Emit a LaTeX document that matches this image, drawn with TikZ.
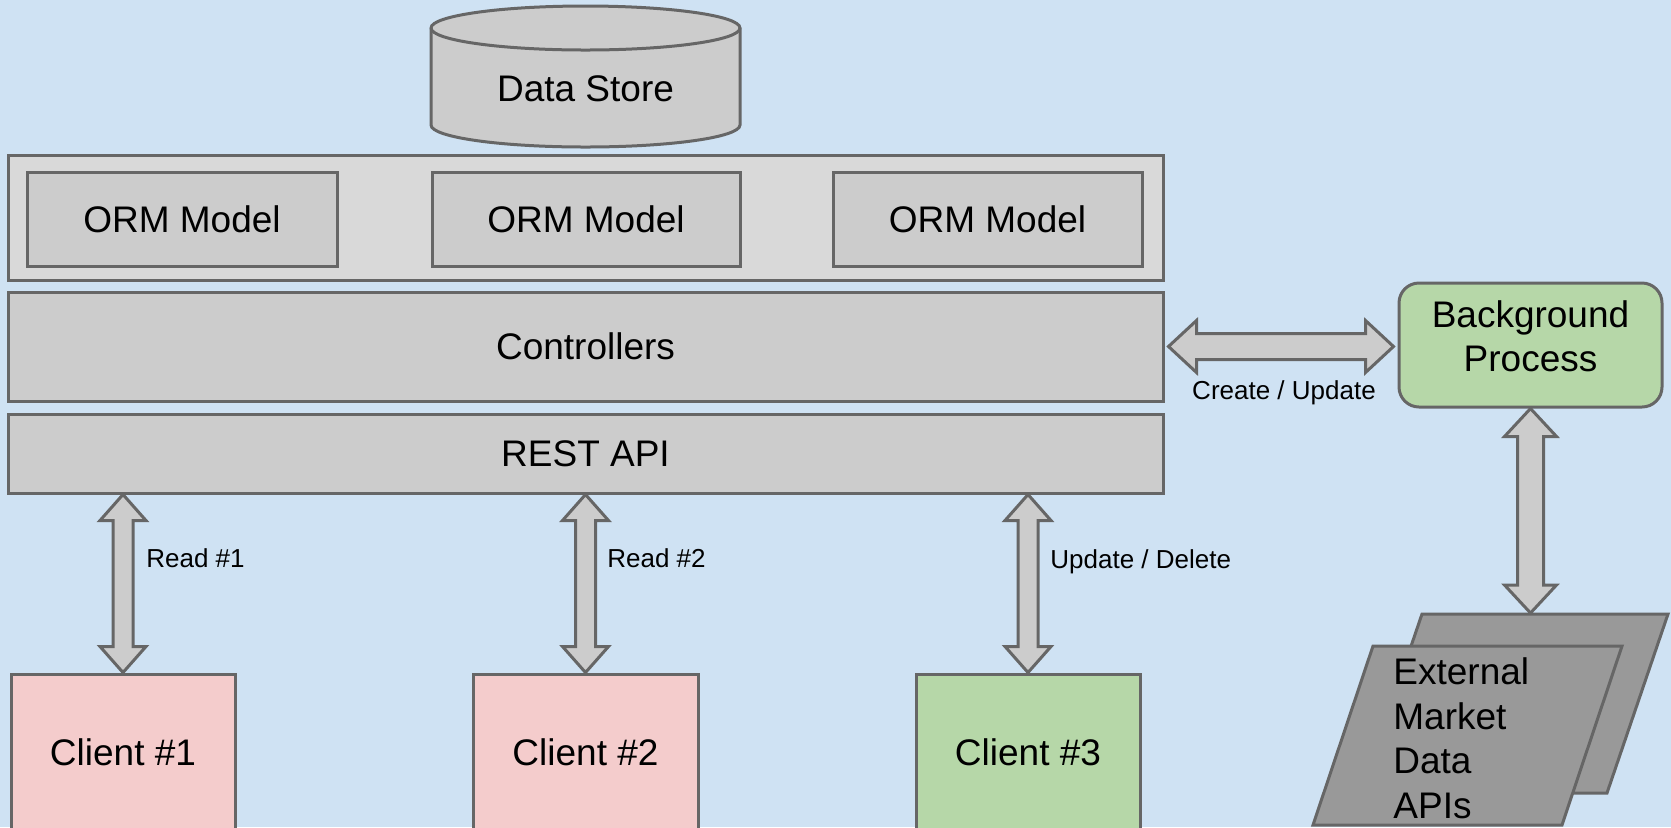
\documentclass[tikz,border=0pt]{standalone}
\usepackage{fontspec}
\setmainfont{Liberation Sans}
\usetikzlibrary{calc}

\definecolor{bgblue}{HTML}{CFE2F3}
\definecolor{edge}{HTML}{666666}
\definecolor{boxgray}{HTML}{CCCCCC}
\definecolor{panelgray}{HTML}{D9D9D9}
\definecolor{darkgray}{HTML}{999999}
\definecolor{clientpink}{HTML}{F4CCCC}
\definecolor{procgreen}{HTML}{B6D7A8}

\newcommand\mainsize{\fontsize{18.5}{22}\selectfont}
\newcommand\labelsize{\fontsize{13}{15}\selectfont}

\tikzset{
  outline/.style={draw=edge, line width=1.5pt, line join=miter},
  sized/.style 2 args={minimum width=#1, minimum height=#2},
  layer/.style={outline, fill=boxgray, inner sep=0pt, font=\mainsize,
                text height=13.25pt, text depth=0pt},
  panel/.style={outline, fill=panelgray, inner sep=0pt},
  client/.style={layer, fill=clientpink},
  client3/.style={layer, fill=procgreen},
  procbox/.style={outline, fill=procgreen, inner sep=0pt, rounded corners=10pt},
  tag/.style={font=\labelsize, inner sep=0pt, text height=9.3pt, text depth=0pt},
  bigtext/.style={font=\mainsize, inner sep=0pt},
  fat/.style={outline, fill=boxgray},
  apis/.style={outline, fill=darkgray},
}

% Block double arrow between two points:
% #1 start, #2 end, #3 shaft half-width, #4 head half-width, #5 head length
\newcommand\fatarrow[5]{%
  \coordinate (fa-s) at (#1);
  \coordinate (fa-e) at (#2);
  \coordinate (fa-1) at ($(fa-s)!#5!(fa-e)$);
  \coordinate (fa-2) at ($(fa-e)!#5!(fa-s)$);
  \draw[fat] (fa-s) -- ($(fa-1)!#4!90:(fa-e)$) -- ($(fa-1)!#3!90:(fa-e)$)
    -- ($(fa-2)!#3!-90:(fa-s)$) -- ($(fa-2)!#4!-90:(fa-s)$) -- (fa-e)
    -- ($(fa-2)!#4!90:(fa-s)$) -- ($(fa-2)!#3!90:(fa-s)$)
    -- ($(fa-1)!#3!-90:(fa-e)$) -- ($(fa-1)!#4!-90:(fa-e)$) -- cycle;
}

\begin{document}
\begin{tikzpicture}[x=0.5pt, y=-0.5pt]
  % canvas
  \fill[bgblue] (0,0) rectangle (1671,827);
  \useasboundingbox (0,0) rectangle (1671,827);
  \clip (0,0) rectangle (1671,827);

  % data store cylinder
  \draw[outline, fill=boxgray] (431,28) -- (431,125)
    arc[start angle=180, end angle=0, x radius=154.5, y radius=22]
    -- (740,28)
    arc[start angle=0, end angle=-180, x radius=154.5, y radius=22] -- cycle;
  \draw[outline] (431,28) arc[start angle=180, end angle=0, x radius=154.5, y radius=22];
  \node[bigtext, text height=13.25pt, text depth=0pt] (ds) at (585.5,88.5) {Data Store};

  % model layer
  \node[panel, sized={577.5pt}{62.5pt}] (orm) at (585.5,217.5) {};
  \node[layer, sized={155pt}{47pt}] (m1) at (182,219) {ORM Model};
  \node[layer, sized={154pt}{47pt}] (m2) at (586,219) {ORM Model};
  \node[layer, sized={154.5pt}{47pt}] (m3) at (987.5,219) {ORM Model};

  % controllers and API
  \node[layer, sized={577.5pt}{54.5pt}] (ctrl) at (585.5,346.5) {Controllers};
  \node[layer, sized={577.5pt}{39.5pt}] (rest) at (585.5,453.5) {REST API};

  % clients
  \node[client, sized={112pt}{78pt}] (c1) at (123,752) {Client \#1};
  \node[client, sized={112.5pt}{78pt}] (c2) at (585.5,752) {Client \#2};
  \node[client3, sized={112pt}{78pt}] (c3) at (1028,752) {Client \#3};

  % background process
  \node[procbox, sized={131.5pt}{62pt}] (bp) at (1530.5,345) {};
  \node[bigtext, align=center] (bpt) at (1530.5,336.5) {Background\\Process};

  % external market data APIs
  \draw[apis] (1422,614) -- (1668,614) -- (1607,793) -- (1361,793) -- cycle;
  \draw[apis] (1373,646) -- (1622,646) -- (1562,825) -- (1313,825) -- cycle;
  \coordinate (ext-top) at (1530.5,613);
  \node[font=\fontsize{18.5}{22.25}\selectfont, inner sep=0pt, align=left, anchor=west]
    (ext) at (1393,738.5) {External\\Market\\Data\\APIs};

  % client <-> API traffic
  \fatarrow{c1.north}{c1.north |- rest.south}{5pt}{11.5pt}{13pt}
  \fatarrow{c2.north}{c2.north |- rest.south}{5pt}{11.5pt}{13pt}
  \fatarrow{c3.north}{c3.north |- rest.south}{5pt}{11.5pt}{13pt}
  \node[tag, anchor=west] (r1) at (146,558) {Read \#1};
  \node[tag, anchor=west] (r2) at (607,558) {Read \#2};
  \node[tag, anchor=west] (ud) at (1050,559) {Update / Delete};

  % background process links
  \fatarrow{$(ctrl.east)+(4,0)$}{$(bp.west |- ctrl.east)+(-4,0)$}{6.5pt}{13pt}{14pt}
  \node[tag] (cu) at (1284,390) {Create / Update};
  \fatarrow{bp.south}{ext-top}{6.5pt}{13pt}{14pt}
\end{tikzpicture}
\end{document}
